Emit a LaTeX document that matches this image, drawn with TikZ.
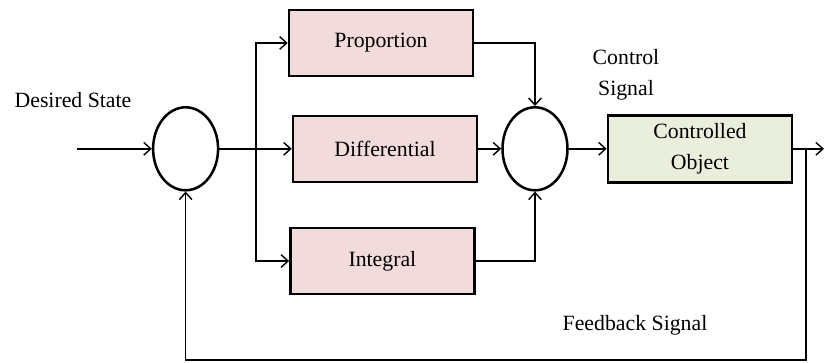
\documentclass[tikz,border=0pt]{standalone}
\usepackage{fontspec}
\setmainfont{Liberation Serif}
\newfontfamily\timesfont{Liberation Serif}
\usetikzlibrary{shapes.geometric, positioning, arrows.meta}
\definecolor{pidpink}{RGB}{242,220,219}
\definecolor{plantgreen}{RGB}{234,239,221}

\begin{document}
\begin{tikzpicture}[
    block/.style={rectangle, draw, line width=1.8pt, minimum width=4.6cm, minimum height=1.65cm, align=center, font=\timesfont\fontsize{15.5}{22}\selectfont},
    summer/.style={ellipse, draw, line width=1.8pt, minimum width=1.625cm, minimum height=2.075cm, inner sep=0pt},
    arrow/.style={-{Straight Barb[length=5pt,width=9pt]}, line width=1pt},
    lbl/.style={align=center, font=\timesfont\fontsize{15.5}{22}\selectfont}
]
    \useasboundingbox (0,0) rectangle (20.625,9.05);
    % summing points and blocks
    \node[summer] (s1) at (4.64,5.33) {};
    \node[block, fill=pidpink] (prop) at (9.525,7.975) {Proportion};
    \node[block, fill=pidpink] (diff) at (9.625,5.33) {Differential};
    \node[block, fill=pidpink] (int) at (9.56,2.525) {Integral};
    \node[summer] (s2) at (13.375,5.33) {};
    \node[block, fill=plantgreen, minimum height=1.675cm] (plant) at (17.5,5.33) {Controlled\\Object};
    % labels
    \node[lbl] (desired) at (1.825,6.55) {Desired State};
    \node[lbl] (ctrl) at (15.65,7.175) {Control\\Signal};
    \node[lbl] (fb) at (15.875,0.925) {Feedback Signal};
    % helper points
    \coordinate (in) at (1.925,5.33);
    \coordinate (split) at (6.4,5.33);
    \coordinate (out) at (20.6,5.33);
    \coordinate (tap) at (20.15,5.33);
    \coordinate (fbcorner) at (20.15,0.05);
    % connectors
    \draw[arrow] (in) -- (s1.west);
    \draw[arrow] (s1.east) -- (diff.west);
    \draw[arrow] (split) |- (prop.west);
    \draw[arrow] (split) |- (int.west);
    \draw[arrow] (prop.east) -| (s2.north);
    \draw[arrow] (diff.east) -- (s2.west);
    \draw[arrow] (int.east) -| (s2.south);
    \draw[arrow] (s2.east) -- (plant.west);
    \draw[arrow] (plant.east) -- (out);
    \draw[arrow] (tap) -- (fbcorner) -| (s1.south);
\end{tikzpicture}
\end{document}
